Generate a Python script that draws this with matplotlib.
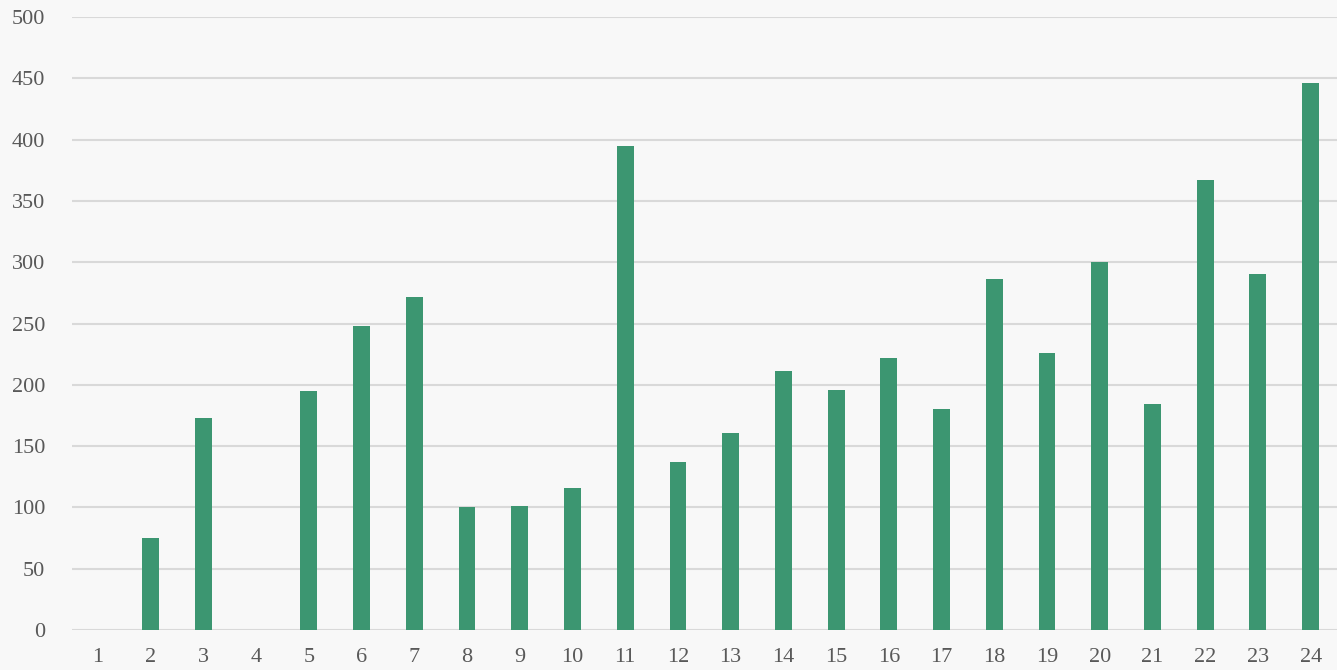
import matplotlib
matplotlib.use("Agg")
import matplotlib.pyplot as plt

# valeurs
categories = [str(i) for i in range(1, 25)]
values = [0, 75, 173, 0, 195, 248, 272, 100, 101, 116, 395, 137,
          161, 211, 196, 222, 180, 286, 226, 300, 184, 367, 290, 446]
yticks = [0, 50, 100, 150, 200, 250, 300, 350, 400, 450, 500]

plt.rcParams["font.family"] = ["Liberation Serif", "DejaVu Serif"]

fig = plt.figure(figsize=(13.37, 6.70), dpi=100)
fig.patch.set_facecolor("#f8f8f8")
ax = fig.add_axes([71.6 / 1337, 1 - 630 / 670, 1 - 71.6 / 1337, (630 - 17) / 670])
ax.set_facecolor("#f8f8f8")

x = list(range(len(categories)))
ax.bar(x, values, width=0.32, color="#3c9671", zorder=3)

ax.set_xlim(-0.5, len(categories) - 0.5)
ax.set_ylim(0, 500)
ax.set_yticks(yticks)
ax.set_xticks(x)
ax.set_xticklabels(categories)
ax.yaxis.grid(True, color="#d9d9d9", linewidth=1.5, zorder=0)
ax.tick_params(axis="both", length=0, labelsize=16, colors="#595959")
ax.tick_params(axis="y", pad=19)
ax.tick_params(axis="x", pad=13)
for s in ax.spines.values():
    s.set_visible(False)

fig.savefig("out.png", dpi=100, facecolor=fig.get_facecolor())
